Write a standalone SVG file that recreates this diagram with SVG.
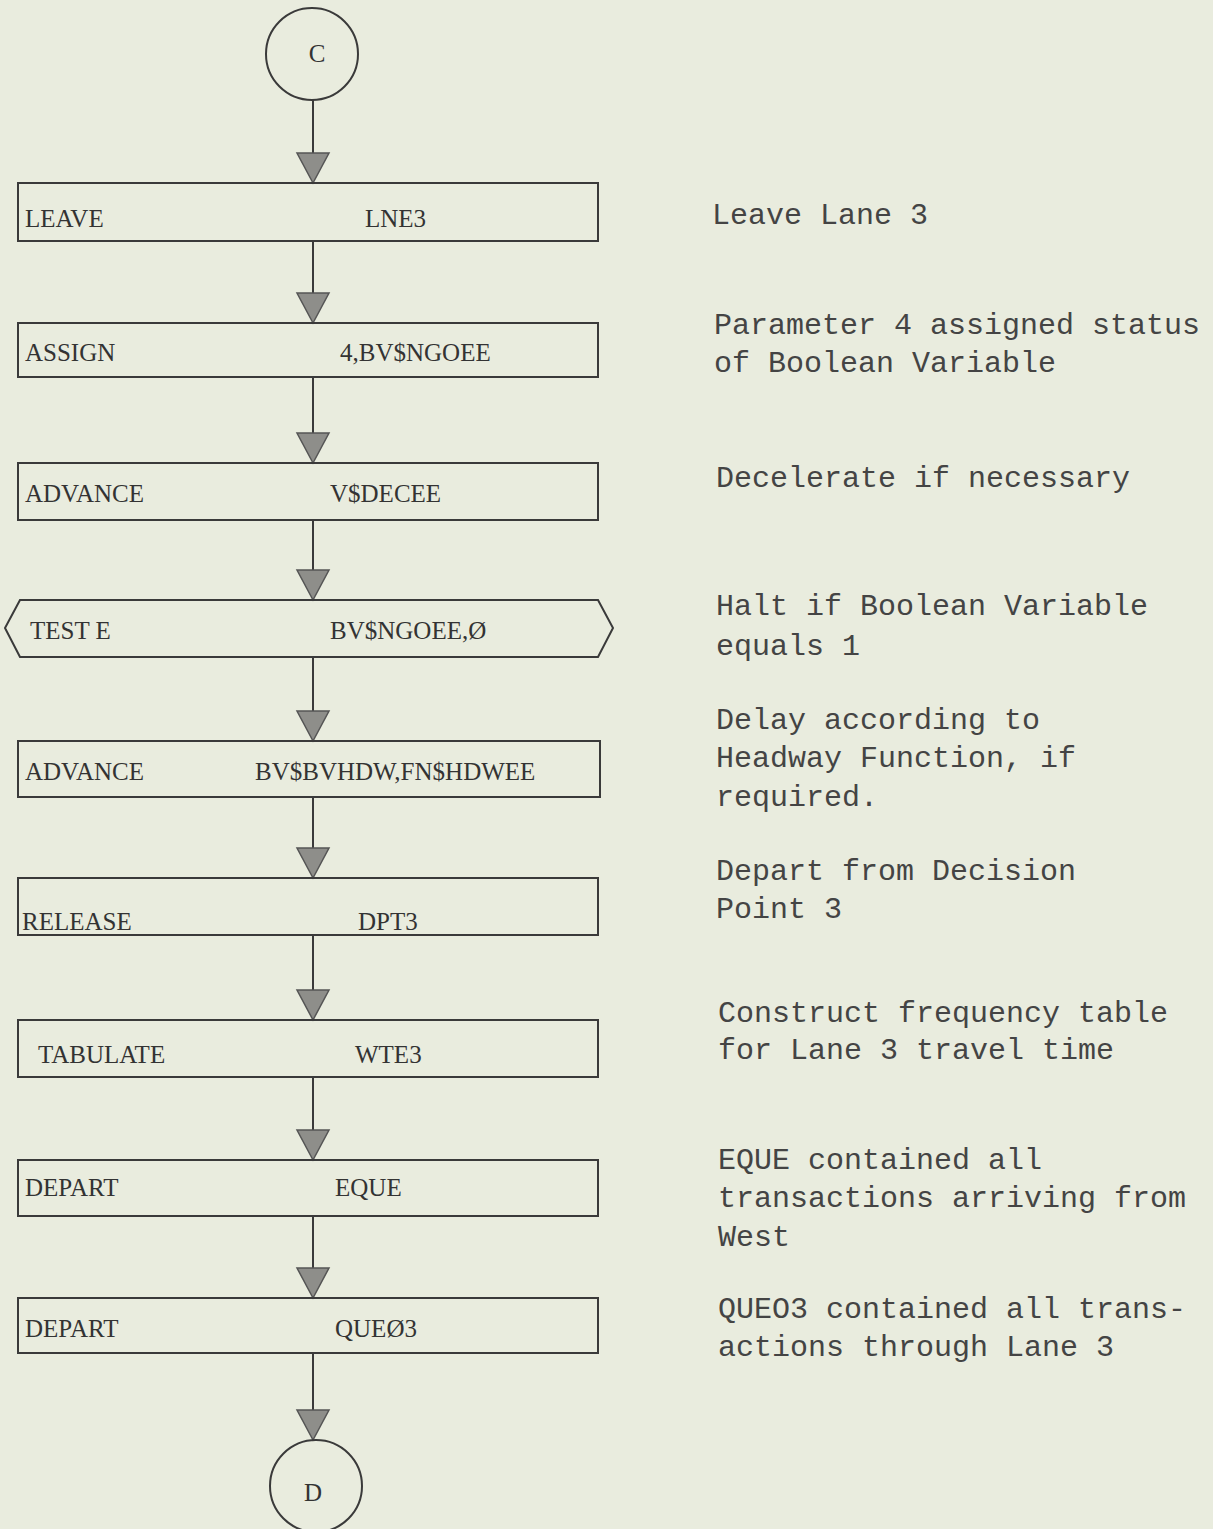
<svg xmlns="http://www.w3.org/2000/svg" width="1213" height="1529" viewBox="0 0 1213 1529">
<defs>
<style>
.box{fill:none;stroke:#3a3a3a;stroke-width:2}
.con{fill:none;stroke:#3a3a3a;stroke-width:2}
.tri{fill:#8e8e8a;stroke:#555;stroke-width:1.5}
.lbl{font-family:"Liberation Serif",serif;font-size:25px;fill:#333}
.note{font-family:"Liberation Mono",monospace;font-size:30px;fill:#444}
</style>
<polygon id="ah" class="tri" points="-16,-30 16,-30 0,0"/>
</defs>
<rect x="0" y="0" width="1213" height="1529" fill="#e9ecde"/>

<g id="connectors">
<line class="con" x1="313" y1="100" x2="313" y2="155"/>
<line class="con" x1="313" y1="241" x2="313" y2="295"/>
<line class="con" x1="313" y1="377" x2="313" y2="435"/>
<line class="con" x1="313" y1="520" x2="313" y2="572"/>
<line class="con" x1="313" y1="657" x2="313" y2="713"/>
<line class="con" x1="313" y1="797" x2="313" y2="850"/>
<line class="con" x1="313" y1="935" x2="313" y2="992"/>
<line class="con" x1="313" y1="1077" x2="313" y2="1132"/>
<line class="con" x1="313" y1="1216" x2="313" y2="1270"/>
<line class="con" x1="313" y1="1353" x2="313" y2="1412"/>
<use href="#ah" x="313" y="183"/>
<use href="#ah" x="313" y="323"/>
<use href="#ah" x="313" y="463"/>
<use href="#ah" x="313" y="600"/>
<use href="#ah" x="313" y="741"/>
<use href="#ah" x="313" y="878"/>
<use href="#ah" x="313" y="1020"/>
<use href="#ah" x="313" y="1160"/>
<use href="#ah" x="313" y="1298"/>
<use href="#ah" x="313" y="1440"/>
</g>

<g id="nodeC">
<circle class="box" cx="312" cy="54" r="46"/>
<text class="lbl" x="317" y="62" text-anchor="middle" font-size="22">C</text>
</g>

<g id="n1">
<rect class="box" x="18" y="183" width="580" height="58"/>
<text class="lbl" x="25" y="227">LEAVE</text>
<text class="lbl" x="365" y="227">LNE3</text>
</g>
<g id="n2">
<rect class="box" x="18" y="323" width="580" height="54"/>
<text class="lbl" x="25" y="361">ASSIGN</text>
<text class="lbl" x="340" y="361">4,BV$NGOEE</text>
</g>
<g id="n3">
<rect class="box" x="18" y="463" width="580" height="57"/>
<text class="lbl" x="25" y="502">ADVANCE</text>
<text class="lbl" x="330" y="502">V$DECEE</text>
</g>
<g id="n4">
<polygon class="box" points="20,600 598,600 613,628 598,657 20,657 5,628"/>
<text class="lbl" x="30" y="639">TEST E</text>
<text class="lbl" x="330" y="639">BV$NGOEE,Ø</text>
</g>
<g id="n5">
<rect class="box" x="18" y="741" width="582" height="56"/>
<text class="lbl" x="25" y="780">ADVANCE</text>
<text class="lbl" x="255" y="780">BV$BVHDW,FN$HDWEE</text>
</g>
<g id="n6">
<rect class="box" x="18" y="878" width="580" height="57"/>
<text class="lbl" x="22" y="930">RELEASE</text>
<text class="lbl" x="358" y="930">DPT3</text>
</g>
<g id="n7">
<rect class="box" x="18" y="1020" width="580" height="57"/>
<text class="lbl" x="38" y="1063">TABULATE</text>
<text class="lbl" x="355" y="1063">WTE3</text>
</g>
<g id="n8">
<rect class="box" x="18" y="1160" width="580" height="56"/>
<text class="lbl" x="25" y="1196">DEPART</text>
<text class="lbl" x="335" y="1196">EQUE</text>
</g>
<g id="n9">
<rect class="box" x="18" y="1298" width="580" height="55"/>
<text class="lbl" x="25" y="1337">DEPART</text>
<text class="lbl" x="335" y="1337">QUEØ3</text>
</g>

<g id="nodeD">
<circle class="box" cx="316" cy="1486" r="46"/>
<text class="lbl" x="313" y="1501" text-anchor="middle" font-size="22">D</text>
</g>

<g id="notes">
<text class="note" x="712" y="224">Leave Lane 3</text>
<text class="note" x="714" y="334">Parameter 4 assigned status</text>
<text class="note" x="714" y="372">of Boolean Variable</text>
<text class="note" x="716" y="487">Decelerate if necessary</text>
<text class="note" x="716" y="615">Halt if Boolean Variable</text>
<text class="note" x="716" y="655">equals 1</text>
<text class="note" x="716" y="729">Delay according to</text>
<text class="note" x="716" y="767">Headway Function, if</text>
<text class="note" x="716" y="806">required.</text>
<text class="note" x="716" y="880">Depart from Decision</text>
<text class="note" x="716" y="918">Point 3</text>
<text class="note" x="718" y="1022">Construct frequency table</text>
<text class="note" x="718" y="1059">for Lane 3 travel time</text>
<text class="note" x="718" y="1169">EQUE contained all</text>
<text class="note" x="718" y="1207">transactions arriving from</text>
<text class="note" x="718" y="1246">West</text>
<text class="note" x="718" y="1318">QUEO3 contained all trans-</text>
<text class="note" x="718" y="1356">actions through Lane 3</text>
</g>
</svg>
